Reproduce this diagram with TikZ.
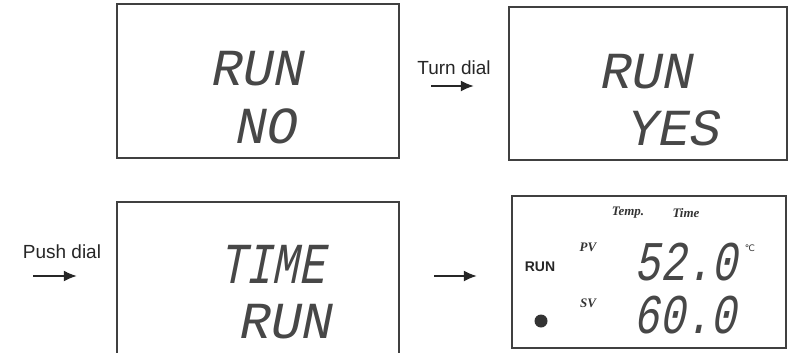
\documentclass[tikz,border=0pt]{standalone}
\usepackage{fontspec}
\setmainfont{Liberation Sans}
\newfontfamily\lcdfont[FakeSlant=0.2]{Liberation Mono}
\newfontfamily\lcdnarrow[FakeSlant=0.2, FakeStretch=0.76]{Liberation Mono}
\newfontfamily\serifit{Liberation Serif}
\newfontfamily\symfont{DejaVu Sans}
\usepackage{tikz}
\usetikzlibrary{arrows.meta, positioning}

\tikzset{
  lcdbox/.style={draw=black!75, line width=2.4pt, minimum width=282pt, minimum height=154pt, inner sep=0pt},
  lcdtext/.style={anchor=base, inner sep=0pt, text=black!72, font=\lcdfont\fontsize{52}{52}\selectfont},
  lcddigits/.style={anchor=base, inner sep=0pt, text=black!72, font=\lcdnarrow\fontsize{56}{56}\selectfont},
  flow/.style={-{Latex[length=13pt, width=11pt]}, line width=1.6pt, black!85},
  hint/.style={inner sep=0pt, font=\fontsize{19}{19}\selectfont, text=black!85},
  tag/.style={inner sep=0pt, text=black!80, font=\serifit\bfseries\itshape\fontsize{13}{13}\selectfont},
}

\begin{document}
\begin{tikzpicture}[x=1pt, y=-1pt]
        \useasboundingbox (0,0) rectangle (789,353);
        % Displays
        \node[lcdbox] (no) at (258,81) {};
        \node[lcdbox, minimum width=278pt, minimum height=153pt] (yes) at (648,83.5) {};
        \node[lcdbox, minimum height=170pt] (time) at (258,287) {};
        \node[lcdbox, minimum width=274pt, minimum height=152pt] (live) at (649,272) {};
        % Display texts
        \node[lcdtext] (norun) at (256,85) {RUN};
        \node[lcdtext] (notext) at (265,143) {NO};
        \node[lcdtext] (yesrun) at (645,88) {RUN};
        \node[lcdtext] (yestext) at (672,145) {YES};
        \node[lcdtext, font=\lcdnarrow\fontsize{58}{58}\selectfont] (timetext) at (272,283) {TIME};
        \node[lcdtext] (timerun) at (284,338) {RUN};
        % Running display
        \node[tag] (temp) at (628,213) {Temp.};
        \node[tag] (clock) at (686,213) {Time};
        \node[tag] (pv) at (588,247) {PV};
        \node[tag] (sv) at (588,303) {SV};
        \node[inner sep=0pt, font=\bfseries\fontsize{14}{14}\selectfont, text=black!85] (runtag) at (540,267) {RUN};
        \node[circle, fill=black!80, minimum size=13pt, inner sep=0pt] (runled) at (541,321) {};
        \node[lcddigits] (pvvalue) at (686,280) {52.0};
        \node[lcddigits] (svvalue) at (685,333) {60.0};
        \node[inner sep=0pt, font=\symfont\fontsize{9}{9}\selectfont, text=black!80] (unit) at (750,248) {℃};
        % Steps
        \coordinate (pushstart) at (33,276);
        \draw[flow, shorten <=31pt, shorten >=34pt] ([yshift=-5pt]no.east) -- ([yshift=-5pt]no.east -| yes.west) node[hint, midway, above=11pt] {Turn dial};
        \draw[flow, shorten >=39pt] (pushstart) -- (pushstart -| time.west) node[hint, pos=0.35, above=17pt] {Push dial};
        \draw[flow, shorten <=34pt, shorten >=34pt] (time.east |- pushstart) -- (live.west |- pushstart);
    \end{tikzpicture}
\end{document}
